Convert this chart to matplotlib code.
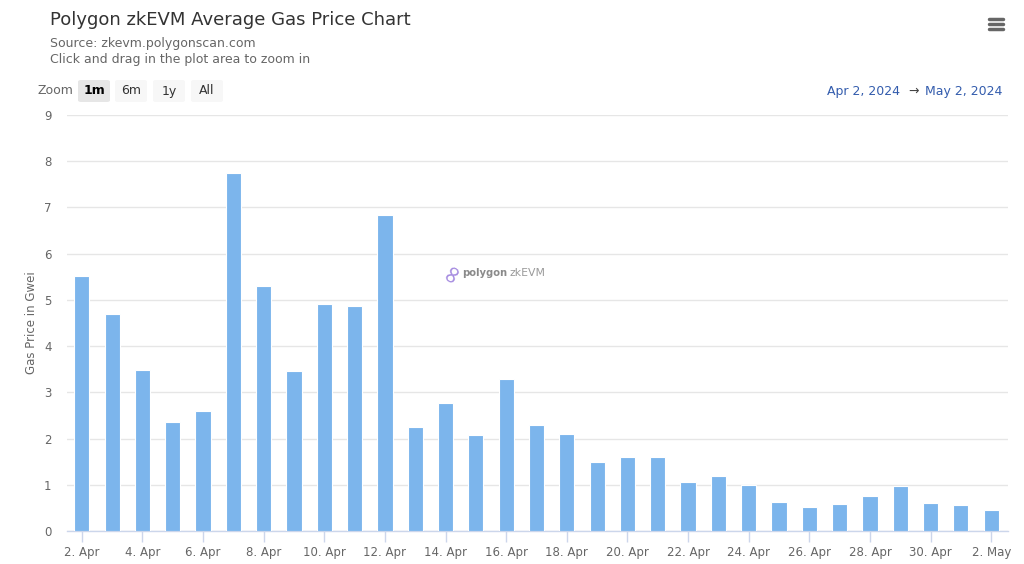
import matplotlib
matplotlib.use("Agg")
import matplotlib.pyplot as plt
import matplotlib.dates as mdates
import pandas as pd
from matplotlib.patches import FancyBboxPatch

# daily average gas price (Gwei)
dates = [
    "2024-04-02", "2024-04-03", "2024-04-04", "2024-04-05", "2024-04-06",
    "2024-04-07", "2024-04-08", "2024-04-09", "2024-04-10", "2024-04-11",
    "2024-04-12", "2024-04-13", "2024-04-14", "2024-04-15", "2024-04-16",
    "2024-04-17", "2024-04-18", "2024-04-19", "2024-04-20", "2024-04-21",
    "2024-04-22", "2024-04-23", "2024-04-24", "2024-04-25", "2024-04-26",
    "2024-04-27", "2024-04-28", "2024-04-29", "2024-04-30", "2024-05-01",
    "2024-05-02",
]
gas_price = [
    5.52, 4.70, 3.48, 2.36, 2.60, 7.75, 5.30, 3.46, 4.92, 4.86,
    6.83, 2.25, 2.76, 2.07, 3.28, 2.29, 2.10, 1.49, 1.61, 1.61,
    1.05, 1.19, 1.00, 0.62, 0.51, 0.58, 0.76, 0.98, 0.60, 0.56,
    0.45,
]
y_ticks = [0, 1, 2, 3, 4, 5, 6, 7, 8, 9]
zoom_buttons = ["1m", "6m", "1y", "All"]

BAR = "#7cb5ec"
GRID = "#e6e6e6"
AXIS = "#ccd6eb"
LABEL = "#666666"

x = pd.to_datetime(dates)

fig = plt.figure(figsize=(10.24, 5.64), dpi=100)
ax = fig.add_axes([0.0651, 0.0585, 0.9189, 0.7375])

ax.bar(x, gas_price, width=0.5, color=BAR, edgecolor="white", linewidth=0.8, zorder=3)

ax.set_ylim(0, 9)
ax.set_yticks(y_ticks)
ax.set_xlim(x[0] - pd.Timedelta(hours=12), x[-1] + pd.Timedelta(hours=13))
ax.grid(axis="y", color=GRID, linewidth=1, zorder=0)

ax.set_xticks(x[::2])
ax.xaxis.set_major_formatter(mdates.DateFormatter("%-d. %b"))
ax.tick_params(axis="x", length=8, width=1, color=AXIS, labelcolor=LABEL, labelsize=8.5, pad=3)
ax.tick_params(axis="y", length=0, labelsize=8.5, labelcolor=LABEL, pad=11)

for side in ["top", "right", "left"]:
    ax.spines[side].set_visible(False)
ax.spines["bottom"].set_color(AXIS)
ax.spines["bottom"].set_linewidth(1)

ax.set_ylabel("Gas Price in Gwei", color=LABEL, fontsize=8.5, labelpad=4)

# watermark
ax.text(0.410, 0.620, "\u221e", transform=ax.transAxes, color="#a58be0",
        fontsize=18, rotation=60, ha="center", va="center", zorder=4)
ax.text(0.420, 0.620, "polygon", transform=ax.transAxes, color="#8a8a8a",
        fontsize=7.2, fontweight="bold", ha="left", va="center", zorder=4)
ax.text(0.4705, 0.620, "zkEVM", transform=ax.transAxes, color="#9a9a9a",
        fontsize=7.8, ha="left", va="center", zorder=4)

# titles
fig.text(50 / 1024, 1 - 20 / 564, "Polygon zkEVM Average Gas Price Chart",
         fontsize=13, color="#333333", ha="left", va="center")
fig.text(50 / 1024, 1 - 44 / 564, "Source: zkevm.polygonscan.com",
         fontsize=9, color=LABEL, ha="left", va="center")
fig.text(50 / 1024, 1 - 59 / 564, "Click and drag in the plot area to zoom in",
         fontsize=9, color=LABEL, ha="left", va="center")

# range selector buttons
fig.text(38 / 1024, 1 - 91 / 564, "Zoom", fontsize=9, color=LABEL, ha="left", va="center")
btn_x = [78, 115, 153, 191]
for i, (bx, name) in enumerate(zip(btn_x, zoom_buttons)):
    face = "#e6e6e6" if i == 0 else "#f7f7f7"
    fig.patches.append(FancyBboxPatch((bx / 1024, 1 - 102 / 564), 32 / 1024, 22 / 564,
                                      boxstyle="round,pad=0,rounding_size=0.003",
                                      transform=fig.transFigure, facecolor=face,
                                      edgecolor="none"))
    fig.text((bx + 16) / 1024, 1 - 91 / 564, name, fontsize=9,
             color="#000000" if i == 0 else "#333333",
             fontweight="bold" if i == 0 else "normal", ha="center", va="center")

# date range
fig.text(900 / 1024, 1 - 91 / 564, "Apr 2, 2024", fontsize=9, color="#335cad",
         ha="right", va="center")
fig.text(914 / 1024, 1 - 91 / 564, "\u2192", fontsize=9, color="#444444",
         ha="center", va="center")
fig.text(1002 / 1024, 1 - 91 / 564, "May 2, 2024", fontsize=9, color="#335cad",
         ha="right", va="center")

# menu icon
for yy in [19, 24, 29]:
    fig.add_artist(plt.Line2D([989 / 1024, 1003 / 1024], [1 - yy / 564, 1 - yy / 564],
                              transform=fig.transFigure, color="#666666",
                              linewidth=2.5, solid_capstyle="round"))

fig.savefig("out.png", dpi=100)
